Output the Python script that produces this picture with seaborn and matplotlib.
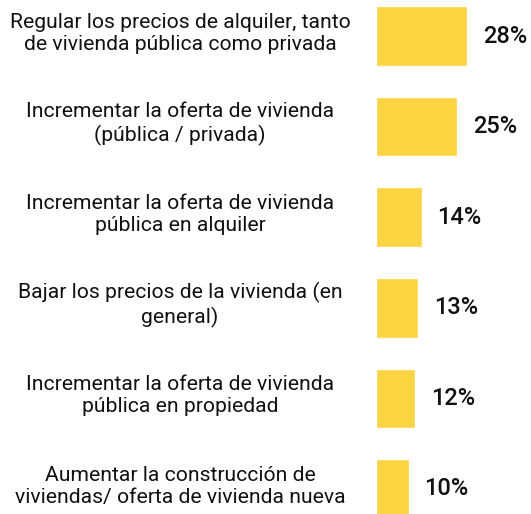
"""Horizontal bar chart: medidas prioritarias de vivienda."""

import matplotlib

matplotlib.use("Agg")
import matplotlib.pyplot as plt
import matplotlib.transforms as mtransforms
import pandas as pd
import seaborn as sns

categories = [
    "Regular los precios de alquiler, tanto\nde vivienda pública como privada",
    "Incrementar la oferta de vivienda\n(pública / privada)",
    "Incrementar la oferta de vivienda\npública en alquiler",
    "Bajar los precios de la vivienda (en\ngeneral)",
    "Incrementar la oferta de vivienda\npública en propiedad",
    "Aumentar la construcción de\nviviendas/ oferta de vivienda nueva",
]
values = [28, 25, 14, 13, 12, 10]

BAR_COLOR = "#FDD441"

sns.set_theme(style="white")
plt.rcParams["font.family"] = ["Roboto", "DejaVu Sans"]

df = pd.DataFrame({"category": categories, "value": values})

W, H = 531, 514
fig = plt.figure(figsize=(W / 100, H / 100), dpi=100)
ax = fig.add_axes([376 / W, 0, 155 / W, 1])

sns.barplot(data=df, x="value", y="category", orient="h", color=BAR_COLOR,
            width=0.66, saturation=1, ax=ax)

ax.set_xlim(0, 155 / 3.25)
pitch = 90.6
ax.set_ylim((H - 36) / pitch, -36 / pitch)
ax.set_axis_off()

label_tf = mtransforms.blended_transform_factory(fig.transFigure, ax.transData)
for i, (cat, val) in enumerate(zip(categories, values)):
    ax.text(180 / W, i - 0.03, cat, transform=label_tf, ha="center", va="center",
            fontsize=15.2, color="#111111", linespacing=1.2)
    ax.text(val + 16 / 3.25, i, f"{val}%", ha="left", va="center",
            fontsize=17, fontweight="medium", color="#111111")

fig.savefig("out.png", dpi=100)
